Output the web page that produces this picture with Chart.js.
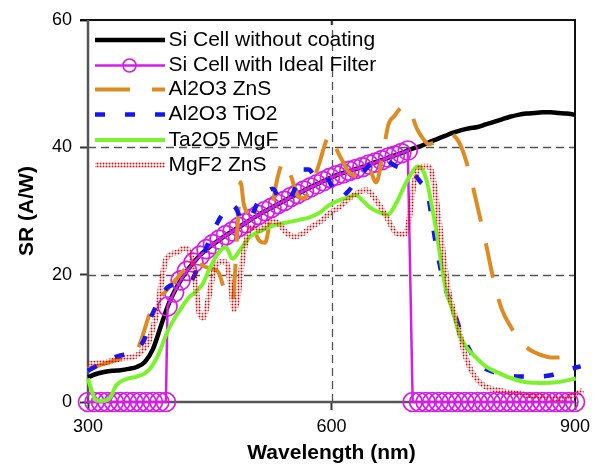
<!DOCTYPE html>
<html><head><meta charset="utf-8">
<script src="https://cdn.jsdelivr.net/npm/chart.js@4/dist/chart.umd.min.js"></script>
<style>html,body{margin:0;padding:0;background:#fff;}#c{display:block;}</style>
</head><body>
<canvas id="c" width="598" height="465"></canvas>
<script>
// ---------- data ----------
const seriesLabels = ['Si Cell without coating','Si Cell with Ideal Filter','Al2O3 ZnS','Al2O3 TiO2','Ta2O5 MgF','MgF2 ZnS'];
const xTickValues = [300, 600, 900];
const yTickValues = [0, 20, 40, 60];
const xGridValues = [600];
const yGridValues = [20, 40];

const blackX = [300,310,320,330,340,350,360,370,380,390,400,410,420,430,440,450,460,470,480,490,500,510,520,530,540,550,560,570,580,590,600,610,620,630,640,650,660,670,680,690,700,710,720,730,740,750,760,770,780,790,800,810,820,830,840,850,860,870,880,890,900,918];
const blackY = [3.9,4.4,4.7,4.9,5.0,5.2,5.5,6.3,8.3,12.0,15.6,18.2,20.3,21.9,23.3,24.4,25.3,26.2,27.0,27.8,28.6,29.4,30.1,30.8,31.5,32.2,32.8,33.5,34.1,34.7,35.3,35.8,36.2,36.6,37.0,37.5,37.9,38.4,38.8,39.3,39.8,40.2,40.8,41.3,41.8,42.3,42.7,43.0,43.2,43.6,44.0,44.4,44.8,45.1,45.3,45.4,45.5,45.5,45.4,45.3,45.1,44.6];

const idealX = [300,308,316,324,332,340,348,356,364,372,380,388,396,398,406,414,422,430,438,446,454,462,470,478,486,494,502,510,518,526,534,542,550,558,566,574,582,590,598,606,614,622,630,638,646,654,662,670,678,686,694,700,708,716,724,732,740,748,756,764,772,780,788,796,804,812,820,828,836,844,852,860,868,876,884,892,900,908];
const idealY = [0,0,0,0,0,0,0,0,0,0,0,0,0,15.0,17.2,19.1,20.6,21.9,23.0,24.0,24.8,25.5,26.2,26.8,27.5,28.1,28.8,29.4,30.0,30.5,31.1,31.6,32.2,32.7,33.2,33.7,34.2,34.7,35.2,35.6,35.9,36.3,36.6,36.9,37.3,37.6,38.0,38.4,38.7,39.1,39.5,0,0,0,0,0,0,0,0,0,0,0,0,0,0,0,0,0,0,0,0,0,0,0,0,0,0,0];

const alznX = [300,310,320,330,340,350,360,365,370,375,380,385,390,400,410,420,430,440,450,460,470,478,484,488,492,500,510,518,526,534,542,550,558,566,575,585,592,598,605,615,622,635,645,655,662,670,678,686,692,698,705,712,720,730,745,752,760,770,780,790,800,810,820,830,840,850,860,870,880,890,900,910];
const alznY = [5.2,5.6,6.0,6.4,6.8,7.0,8.0,9.5,11.5,13.5,14.5,15.5,16.5,18.0,19.5,21.0,22.5,21.5,21.0,20.5,17.0,15.8,27.0,34.5,31.0,29.0,25.5,25.0,30.0,35.5,37.8,35.5,32.5,32.0,34.0,37.5,40.5,42.0,40.0,37.5,36.0,35.5,37.0,34.5,38.0,43.5,45.0,46.3,46.5,45.4,43.0,41.5,40.5,41.0,42.0,41.7,40.0,36.0,30.6,25.0,19.0,14.5,12.0,10.0,8.6,7.8,7.3,7.0,7.0,7.1,7.4,7.5];

const altiX = [300,310,320,330,340,350,360,365,370,375,380,390,398,410,420,428,435,445,455,465,475,482,490,500,510,520,528,535,545,555,565,572,580,590,600,610,620,635,650,665,680,690,700,710,718,724,730,740,750,760,770,780,790,800,815,830,850,870,885,897,907];
const altiY = [4.9,5.6,6.3,6.9,7.3,7.6,8.2,8.9,10.0,12.5,14.0,16.5,18.0,18.5,18.7,19.2,21.0,24.0,27.0,29.4,31.0,30.5,28.5,29.0,31.5,33.0,33.5,32.0,31.5,33.5,36.5,36.5,35.5,36.0,34.0,32.0,33.0,35.5,37.5,38.0,37.0,36.6,36.0,34.5,33.0,28.5,23.7,18.0,14.5,10.8,8.2,6.0,5.2,4.7,4.2,4.0,4.0,4.2,4.8,5.3,5.6];

const tamgX = [300,304,308,312,320,328,334,340,350,360,370,378,385,390,397,405,413,425,430,441,450,460,470,478,488,500,515,530,545,560,573,585,597,610,622,630,638,648,659,669,680,690,696,706,712,718,724,729,735,741,749,757,765,778,790,807,820,840,860,877,890,901,912];
const tamgY = [3.7,2.0,0.6,0.2,0.2,0.8,2.5,3.2,3.7,4.0,4.5,5.5,7.0,8.5,10.8,12.8,14.4,16.5,17.0,18.5,21.0,23.3,24.3,22.5,24.0,26.0,27.0,27.8,28.2,28.6,29.0,29.7,30.9,31.7,32.2,32.5,31.7,30.5,29.8,29.4,31.3,34.0,35.4,37.0,36.5,34.4,30.5,27.0,22.0,17.6,14.5,10.8,8.8,7.0,5.6,4.5,3.8,3.1,3.0,3.1,3.4,3.7,4.0];

const mgznX = [300,320,340,360,370,375,380,385,390,395,402,410,420,428,433,437,442,448,455,462,470,476,480,484,490,496,502,510,518,525,535,545,555,565,575,588,597,610,622,634,643,655,668,680,690,696,700,705,712,720,726,732,738,744,750,756,762,770,780,790,800,820,840,860,880,895,910];
const mgznY = [6.0,6.2,6.8,7.3,8.5,9.5,11.7,14.0,18.5,22.0,23.2,23.5,24.2,22.5,18.0,14.0,13.2,16.0,20.5,22.0,22.0,18.0,14.5,16.0,22.0,26.0,27.5,27.0,27.5,28.5,28.0,26.5,26.0,26.5,27.5,28.5,29.6,30.6,32.0,33.0,33.3,31.7,29.0,26.5,26.3,29.0,33.0,36.0,37.0,37.0,34.5,29.0,23.0,17.6,14.5,12.0,8.5,5.5,3.4,2.4,2.0,1.5,1.1,0.8,0.6,0.9,1.8];

// ---------- helpers ----------
function pts(xs, ys){ return xs.map((x,i)=>({x:x, y:ys[i]})); }
const canvas = document.getElementById('c');
const ctx0 = canvas.getContext('2d');
function dotPattern(color){
  const t = document.createElement('canvas'); t.width = 3; t.height = 3;
  const g = t.getContext('2d'); g.fillStyle = color;
  g.beginPath(); g.arc(1.5,1.5,1.0,0,Math.PI*2); g.fill();
  return ctx0.createPattern(t,'repeat');
}
const FONT = '"Liberation Sans", Arial, Helvetica, sans-serif';
const redPat = dotPattern('#E00808');

const datasets = [
  {label:seriesLabels[0], data:pts(blackX,blackY), borderColor:'#000000', borderWidth:4.5, pointRadius:0, cubicInterpolationMode:'monotone', order:6},
  {label:seriesLabels[1], data:pts(idealX,idealY), borderColor:'#D41EE8', borderWidth:2.5, pointRadius:9.5, pointBorderWidth:1.7, pointBackgroundColor:'rgba(0,0,0,0)', pointBorderColor:'#D41EE8', tension:0, order:5},
  {label:seriesLabels[2], data:pts(alznX,alznY), borderColor:'#DF8B24', borderWidth:4, borderDash:[35,22], pointRadius:0, cubicInterpolationMode:'monotone', order:4},
  {label:seriesLabels[3], data:pts(altiX,altiY), borderColor:'#1616EE', borderWidth:4.5, borderDash:[10,20], pointRadius:0, cubicInterpolationMode:'monotone', order:3},
  {label:seriesLabels[4], data:pts(tamgX,tamgY), borderColor:'#7CF22C', borderWidth:4, pointRadius:0, cubicInterpolationMode:'monotone', order:2},
  {label:seriesLabels[5], data:pts(mgznX,mgznY), borderColor:redPat, borderWidth:5.5, pointRadius:0, cubicInterpolationMode:'monotone', order:1}
];
datasets.forEach(d=>{ d.clip = false; d.fill = false; });

const framePlugin = {
  id:'frame',
  beforeDatasetsDraw(chart){
    const {ctx, chartArea:a, scales:{x, y}} = chart;
    ctx.save();
    ctx.strokeStyle = '#555'; ctx.lineWidth = 1.3; ctx.setLineDash([8,5]);
    yGridValues.forEach(v=>{ const p = Math.round(y.getPixelForValue(v))+0.5; ctx.beginPath(); ctx.moveTo(a.left,p); ctx.lineTo(a.right,p); ctx.stroke(); });
    xGridValues.forEach(v=>{ const p = Math.round(x.getPixelForValue(v))+0.5; ctx.beginPath(); ctx.moveTo(p,a.bottom); ctx.lineTo(p,a.top); ctx.stroke(); });
    ctx.setLineDash([]);
    xGridValues.forEach(v=>{ const p = x.getPixelForValue(v); ctx.strokeStyle='#333'; ctx.lineWidth=1.5; ctx.beginPath(); ctx.moveTo(p,a.top); ctx.lineTo(p,a.top+5); ctx.stroke(); });
    ctx.strokeStyle = '#111'; ctx.lineWidth = 2;
    ctx.beginPath(); ctx.moveTo(a.left-8,a.top); ctx.lineTo(a.right,a.top); ctx.lineTo(a.right,a.bottom); ctx.stroke();
    ctx.strokeStyle = '#555'; ctx.lineWidth = 2.5;
    ctx.beginPath(); ctx.moveTo(a.left,a.top); ctx.lineTo(a.left,a.bottom); ctx.lineTo(a.right,a.bottom); ctx.stroke();
    ctx.restore();
  }
};

const legendPlugin = {
  id:'inlegend',
  afterDraw(chart){
    const ctx = chart.ctx;
    const rowsY = [40, 65.5, 89.5, 114.5, 140, 165];
    ctx.save();
    chart.data.datasets.forEach((ds,i)=>{
      const yy = rowsY[i];
      ctx.beginPath();
      ctx.setLineDash(ds.borderDash || []);
      ctx.lineWidth = ds.borderWidth; ctx.strokeStyle = ds.borderColor; ctx.lineCap = 'butt';
      ctx.moveTo(95,yy); ctx.lineTo(165,yy); ctx.stroke();
      ctx.setLineDash([]);
      if (ds.pointRadius > 0){
        ctx.beginPath(); ctx.lineWidth = ds.pointBorderWidth; ctx.strokeStyle = ds.pointBorderColor;
        ctx.arc(129.5, yy, 6.5, 0, Math.PI*2); ctx.stroke();
      }
      ctx.fillStyle = '#000'; ctx.font = '21px ' + FONT; ctx.textBaseline = 'middle'; ctx.textAlign = 'left';
      ctx.fillText(ds.label, 168.5, yy);
    });
    ctx.restore();
  }
};

new Chart(canvas, {
  type:'line',
  data:{datasets:datasets},
  plugins:[framePlugin, legendPlugin],
  options:{
    responsive:false, animation:false, devicePixelRatio:1,
    layout:{padding:{left:0, right:23, top:20, bottom:0}},
    plugins:{legend:{display:false}, tooltip:{enabled:false}},
    scales:{
      x:{
        type:'linear', min:300, max:900,
        afterBuildTicks(s){ s.ticks = xTickValues.map(v=>({value:v})); },
        afterFit(s){ s.height = 63; },
        border:{display:false},
        grid:{drawOnChartArea:false, drawTicks:true, tickLength:8, tickColor:'#333', tickWidth:2},
        ticks:{color:'#000', font:{size:18, family:FONT}, padding:6, maxRotation:0, autoSkip:false},
        title:{display:true, text:'Wavelength (nm)', color:'#000', font:{size:21, weight:'bold', family:FONT, lineHeight:1}, padding:{top:0, bottom:1}}
      },
      y:{
        type:'linear', min:0, max:60,
        afterBuildTicks(s){ s.ticks = yTickValues.map(v=>({value:v})); },
        afterFit(s){ s.width = 88; },
        border:{display:false},
        grid:{drawOnChartArea:false, drawTicks:true, tickLength:8, tickColor:'#333', tickWidth:2},
        ticks:{color:'#000', font:{size:18, family:FONT}, padding:8, autoSkip:false},
        title:{display:true, text:'SR (A/W)', color:'#000', font:{size:21, weight:'bold', family:FONT, lineHeight:1}, padding:{top:17, bottom:0}}
      }
    }
  }
});
</script>
</body></html>
